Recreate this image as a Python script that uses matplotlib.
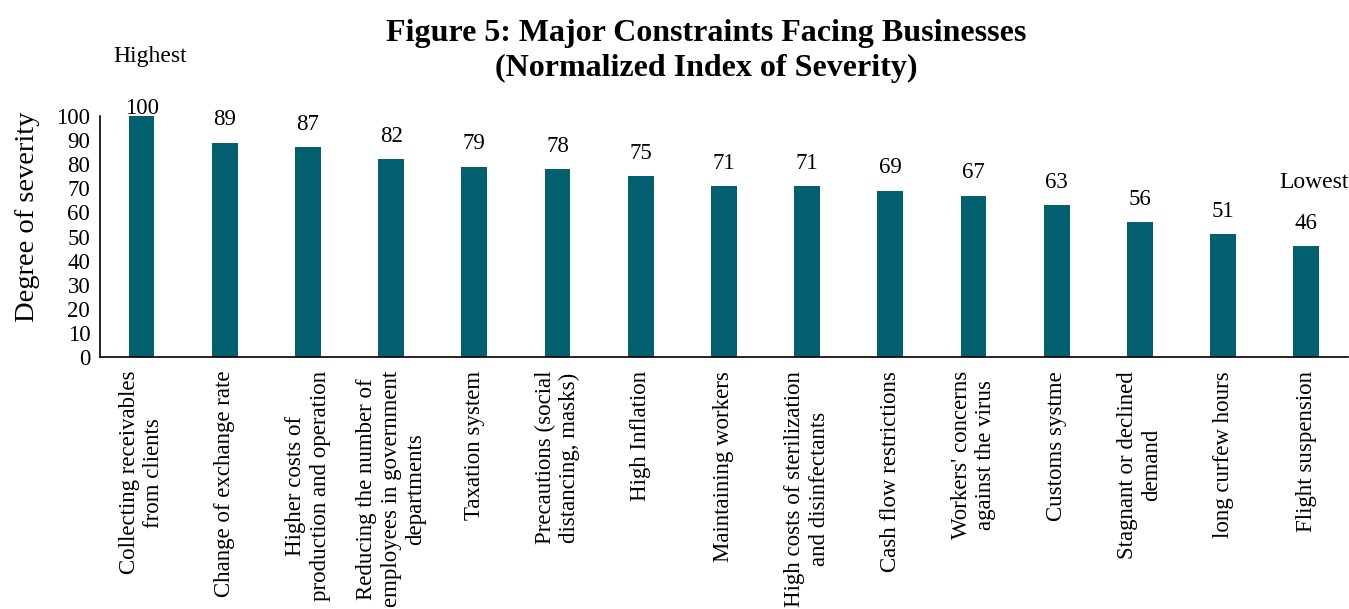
import matplotlib.pyplot as plt

plt.rcParams['font.family'] = ['Liberation Serif', 'DejaVu Serif']

#-- Data
categories = [
    "Collecting receivables\nfrom clients",
    "Change of exchange rate",
    "Higher costs of\nproduction and operation",
    "Reducing the number of\nemployees in government\ndepartments",
    "Taxation system",
    "Precautions (social\ndistancing, masks)",
    "High Inflation",
    "Maintaining workers",
    "High costs of sterilization\nand disinfectants",
    "Cash flow restrictions",
    "Workers' concerns\nagainst the virus",
    "Customs systme",
    "Stagnant or declined\ndemand",
    "long curfew hours",
    "Flight suspension",
]
values = [100, 89, 87, 82, 79, 78, 75, 71, 71, 69, 67, 63, 56, 51, 46]
yticks = list(range(0, 101, 10))

#-- Figure
fig = plt.figure(figsize=(13.49, 6.09), dpi=100)
ax = fig.add_axes([0.0741, 0.4138, 0.925, 0.3957])

x = range(len(values))
bars = ax.bar(x, values, width=0.31, color='#03606E')

#-- Data labels (the top one gets pushed down onto the bar, as Excel does)
for xi, v in zip(x, values):
    ax.text(xi, min(v + 9.5, 103.3), str(v), ha='center', va='center', fontsize=16.5)

ax.set_xlim(-0.5, len(values) - 0.5)
ax.set_ylim(0, 100)
ax.set_yticks(yticks)
ax.set_xticks(list(x))
ax.set_xticklabels(categories, rotation=90, ha='center', va='top',
                   multialignment='center', fontsize=16.5)
ax.tick_params(axis='both', length=0, labelsize=16.5)
ax.tick_params(axis='x', pad=10)
ax.tick_params(axis='y', pad=7)

for s in ['top', 'right']:
    ax.spines[s].set_visible(False)
ax.spines['left'].set_linewidth(1.2)
ax.spines['bottom'].set_linewidth(1.2)

ax.set_ylabel("Degree of severity", fontsize=20.5)
ax.yaxis.set_label_coords(-0.048, 0.58)

fig.text(0.5235, 0.916, "Figure 5: Major Constraints Facing Businesses\n(Normalized Index of Severity)",
         ha='center', va='center', fontsize=23, fontweight='bold', linespacing=1.25)
fig.text(0.111, 0.908, "Highest", ha='center', va='center', fontsize=17)
fig.text(0.974, 0.701, "Lowest", ha='center', va='center', fontsize=17)

plt.savefig('out.png', dpi=100)
